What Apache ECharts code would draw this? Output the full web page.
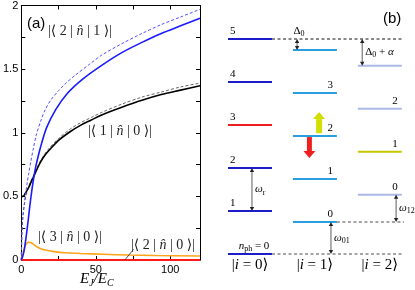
<!DOCTYPE html>
<html><head><meta charset="utf-8">
<script src="https://cdn.jsdelivr.net/npm/echarts@6/dist/echarts.min.js"></script>
<style>html,body{margin:0;padding:0;background:#fff;}#chart{width:415px;height:290px;}</style>
</head><body><div id="chart"></div>
<script>
// ---------- Panel (a): charge matrix elements vs EJ/EC ----------
const n21Exact = [[0,0],[1,0.03],[2,0.08],[3,0.16],[4,0.25],[5,0.35],[6,0.45],[7,0.54],[8,0.62],[9,0.69],[10,0.75],[13,0.89],[17,1.04],[23,1.18],[31,1.31],[41,1.42],[54,1.53],[67.5,1.63],[81,1.71],[94,1.78],[107,1.84],[120,1.9]];
const n21Asym = [[0,0],[0.5,0.22],[1,0.32],[2,0.44],[3,0.53],[4,0.61],[5,0.68],[6.5,0.78],[8,0.87],[10,0.98],[13,1.09],[16,1.18],[20,1.26],[25,1.33],[30,1.39],[36,1.45],[46,1.54],[54,1.61],[67.5,1.7],[81,1.78],[94,1.85],[107,1.91],[120,1.97]];
const n10Exact = [[0,0.5],[1,0.5],[2,0.51],[3.5,0.54],[5,0.57],[6.5,0.61],[8.5,0.66],[10,0.7],[12,0.75],[15,0.81],[18.5,0.86],[25,0.94],[33,1.01],[40,1.06],[47,1.1],[54,1.14],[67.5,1.2],[81,1.255],[94,1.3],[107,1.335],[120,1.37]];
const n10Asym = [[0,0],[0.4,0.22],[1,0.34],[2,0.43],[3,0.5],[4.5,0.56],[6,0.61],[8,0.66],[10,0.71],[12,0.76],[15,0.82],[18.5,0.875],[25,0.955],[33,1.03],[40,1.08],[47,1.12],[54,1.16],[67.5,1.225],[81,1.28],[94,1.32],[107,1.36],[120,1.39]];
const n30Exact = [[0,0],[1,0.05],[2,0.09],[3,0.12],[4,0.135],[5,0.14],[6,0.138],[7.5,0.13],[9,0.115],[11,0.1],[13.5,0.087],[17,0.076],[22,0.066],[30,0.057],[40,0.051],[55,0.045],[72,0.039],[90,0.035],[120,0.031]];
const n20Exact = [[0,0],[120,0]];
const n20Leader = [[69.5,0],[75.5,0.085]];
const xTickLabels = [0, 50, 100];
const yTickLabels = [0, 0.5, 1, 1.5, 2];

// ---------- Panel (b): level diagram ----------
const col0Levels = [0, 1, 2, 3, 4, 5];
const col1Levels = [0.744, 1.744, 2.744, 3.744, 4.744];
const col2Levels = [1.38, 2.38, 3.38, 4.38];
const col0Names = ['', '1', '2', '3', '4', '5'];
const col1Names = ['0', '1', '2', '3', ''];
const col2Names = ['0', '1', '2', ''];
const stateNames = ['0', '1', '2'];
const gapArrows = [[0, 1, 2], [1, 4.744, 5], [2, 4.38, 5], [1, 0, 0.744], [2, 0.744, 1.38]]; // [column, lower, upper]
const gapNames = ['{i|ω}{s|r}', '{t|Δ}{s|0}', '{t|Δ}{s|0}{t| + }{i|α}', '{i|ω}{s|01}', '{i|ω}{s|12}'];
const drives = [[1, 2.81, 3.30], [1, 2.72, 2.23]]; // [column, from, to]
const refLines = [[5, 0], [0.744, 1], [0, 0]]; // [energy, column it starts after]

// ---------- layout / style ----------
const COL_X = [0, 1.475, 2.95];
const LEVEL_W = 1;
const REF_END = 4.0;
const GAP_OFFSET = [0.545, 0.095, 0.1, 0.865, 0.87];
const GAP_LABEL = ['right', 'top', 'right', 'right', 'right'];
const DRIVE_OFFSET = [0.595, 0.375];
const DRIVE_COLOR = ['#d2de00', '#ee2020'];
const DRIVE_SHAFT = [6, 5];
const REF_COLOR = ['#111', '#888', '#888'];
const SERIF = '"Liberation Serif", "DejaVu Serif", serif';
const SANS = '"Liberation Sans", Arial, sans-serif';
const richSmall = {
  t: {fontSize: 11, fontFamily: SERIF, lineHeight: 14, fill: '#000'},
  i: {fontSize: 11, fontFamily: SERIF, fontStyle: 'italic', lineHeight: 14, fill: '#000'},
  s: {fontSize: 8, fontFamily: SERIF, verticalAlign: 'bottom', lineHeight: 6, fill: '#000'}
};
const richBig = {
  t: {fontSize: 15, fontFamily: SERIF, lineHeight: 18, fill: '#000'},
  i: {fontSize: 15, fontFamily: SERIF, fontStyle: 'italic', lineHeight: 18, fill: '#000'},
  s: {fontSize: 10, fontFamily: SERIF, fontStyle: 'italic', verticalAlign: 'bottom', lineHeight: 8, fill: '#000'}
};
const richLab = {
  t: {fontSize: 14, fontFamily: SERIF, fill: '#222'},
  i: {fontSize: 14, fontFamily: SERIF, fontStyle: 'italic', fill: '#222'}
};

function levelColor(c, k) {
  if (c === 0) return k === 3 ? '#ee1c1c' : '#1c1cc8';
  if (c === 1) return '#2a9fe0';
  return k === 1 ? '#c8c800' : '#aab9e6';
}
const levelNames = [col0Names, col1Names, col2Names];
const levelData = [];
[col0Levels, col1Levels, col2Levels].forEach((arr, c) => arr.forEach((e, k) => levelData.push([c, e, k])));

function renderLevel(params, api) {
  const c = api.value(0), e = api.value(1), k = api.value(2);
  const p1 = api.coord([COL_X[c], e]), p2 = api.coord([COL_X[c] + LEVEL_W, e]);
  const ch = [{type: 'line', shape: {x1: p1[0], y1: p1[1], x2: p2[0], y2: p2[1]}, style: {stroke: levelColor(c, k), lineWidth: 2}}];
  const lab = levelNames[c][k];
  if (lab) {
    ch.push({type: 'text', style: {text: lab, x: c === 0 ? p1[0] + 2 : p2[0] - 4, y: p1[1] - 8,
      font: '11px ' + SERIF, fill: '#000', align: c === 0 ? 'left' : 'right', verticalAlign: 'middle'}});
  }
  if (c === 0 && k === 0) {
    ch.push({type: 'text', style: {text: '{i|n}{s|ph}{t| = 0}', rich: richSmall, x: (p1[0] + p2[0]) / 2 + 4, y: p1[1] - 8,
      align: 'center', verticalAlign: 'middle'}});
  }
  return {type: 'group', children: ch};
}

function renderGap(params, api) {
  const i = params.dataIndex;
  const c = api.value(0), lo = api.value(1), hi = api.value(2);
  const xd = COL_X[c] + GAP_OFFSET[i];
  const a = api.coord([xd, hi]), b = api.coord([xd, lo]);
  const x = a[0], hl = 4, hw = 2.2;
  const ch = [
    {type: 'line', shape: {x1: x, y1: a[1] + 2, x2: x, y2: b[1] - 2}, style: {stroke: '#333', lineWidth: 0.8}},
    {type: 'polygon', shape: {points: [[x, a[1]], [x - hw, a[1] + hl], [x + hw, a[1] + hl]]}, style: {fill: '#222'}},
    {type: 'polygon', shape: {points: [[x, b[1]], [x - hw, b[1] - hl], [x + hw, b[1] - hl]]}, style: {fill: '#222'}}
  ];
  if (GAP_LABEL[i] === 'top') {
    ch.push({type: 'text', style: {text: gapNames[i], rich: richSmall, x: x + 2, y: a[1] - 8, align: 'center', verticalAlign: 'middle'}});
  } else {
    ch.push({type: 'text', style: {text: gapNames[i], rich: richSmall, x: x + 3, y: (a[1] + b[1]) / 2, align: 'left', verticalAlign: 'middle'}});
  }
  return {type: 'group', children: ch};
}

function renderDrive(params, api) {
  const i = params.dataIndex;
  const c = api.value(0), from = api.value(1), to = api.value(2);
  const xd = COL_X[c] + DRIVE_OFFSET[i];
  const a = api.coord([xd, from]), b = api.coord([xd, to]);
  const x = a[0], dir = b[1] < a[1] ? -1 : 1;
  const hl = 7, hw = 6, sw = DRIVE_SHAFT[i] / 2;
  const base = b[1] - dir * hl;
  return {type: 'group', children: [
    {type: 'polygon', shape: {points: [[x - sw, a[1]], [x + sw, a[1]], [x + sw, base], [x - sw, base]]}, style: {fill: DRIVE_COLOR[i]}},
    {type: 'polygon', shape: {points: [[x - hw, base], [x + hw, base], [x, b[1]]]}, style: {fill: DRIVE_COLOR[i]}}
  ]};
}

function renderRef(params, api) {
  const i = params.dataIndex;
  const e = api.value(0), c = api.value(1);
  const a = api.coord([COL_X[c] + LEVEL_W, e]), b = api.coord([REF_END, e]);
  return {type: 'line', shape: {x1: a[0], y1: a[1], x2: b[0], y2: b[1]},
    style: {stroke: REF_COLOR[i], lineWidth: i === 0 ? 1 : 1.3, lineDash: [3, 2.5]}};
}

function renderState(params, api) {
  const c = api.value(0);
  const p = api.coord([COL_X[c] + LEVEL_W / 2, 0]);
  return {type: 'text', style: {text: '{t||}{i|i}{t| = ' + stateNames[c] + '⟩}', rich: richBig, x: p[0], y: p[1] + 11,
    align: 'center', verticalAlign: 'middle'}};
}

const tickFmtX = v => xTickLabels.indexOf(v) >= 0 ? String(v) : '';
const tickFmtY = v => yTickLabels.some(t => Math.abs(t - v) < 1e-9) ? String(v) : '';
const axisCommon = {
  axisLine: {show: true, onZero: false, lineStyle: {color: '#000', width: 1}},
  axisTick: {show: true, inside: true, length: 4, lineStyle: {color: '#000', width: 1}},
  splitLine: {show: false}
};
const pB = {xAxisIndex: 2, yAxisIndex: 2};

const chart = echarts.init(document.getElementById('chart'), null, {renderer: 'canvas'});
chart.setOption({
  animation: false,
  backgroundColor: '#fff',
  grid: [
    {left: 17, top: 5, width: 183, height: 255},
    {left: 228, top: 39, width: 178, height: 215}
  ],
  xAxis: [
    Object.assign({gridIndex: 0, type: 'value', min: 0, max: 120, interval: 25, position: 'bottom',
      axisLabel: {formatter: tickFmtX, color: '#000', fontSize: 11, fontFamily: SANS, margin: 4}}, axisCommon),
    Object.assign({gridIndex: 0, type: 'value', min: 0, max: 120, interval: 25, position: 'top',
      axisLabel: {show: false}}, axisCommon),
    {gridIndex: 1, type: 'value', min: 0, max: 4.045, show: false}
  ],
  yAxis: [
    Object.assign({gridIndex: 0, type: 'value', min: 0, max: 2, interval: 0.25, position: 'left',
      axisLabel: {formatter: tickFmtY, color: '#000', fontSize: 11, fontFamily: SANS, margin: 3}}, axisCommon),
    Object.assign({gridIndex: 0, type: 'value', min: 0, max: 2, interval: 0.25, position: 'right',
      axisLabel: {show: false}}, axisCommon),
    {gridIndex: 1, type: 'value', min: 0, max: 5, show: false}
  ],
  series: [
    {type: 'line', data: n20Exact, xAxisIndex: 0, yAxisIndex: 0, showSymbol: false, clip: false,
      lineStyle: {color: '#ff1a1a', width: 2.2}, z: 3,
      markLine: {silent: true, symbol: 'none', label: {show: false}, lineStyle: {color: '#222', width: 0.8, type: 'solid'},
        data: [[{coord: n20Leader[0]}, {coord: n20Leader[1]}]]}},
    {type: 'line', data: n30Exact, xAxisIndex: 0, yAxisIndex: 0, showSymbol: false, smooth: 0.3,
      lineStyle: {color: '#ffa41a', width: 1.6}},
    {type: 'line', data: n10Asym, xAxisIndex: 0, yAxisIndex: 0, showSymbol: false, smooth: 0.3,
      lineStyle: {color: '#666', width: 1, type: [3, 2]}},
    {type: 'line', data: n10Exact, xAxisIndex: 0, yAxisIndex: 0, showSymbol: false, smooth: 0.3,
      lineStyle: {color: '#000', width: 1.6}},
    {type: 'line', data: n21Asym, xAxisIndex: 0, yAxisIndex: 0, showSymbol: false, smooth: 0.3,
      lineStyle: {color: '#5050ff', width: 1, type: [3, 2]}},
    {type: 'line', data: n21Exact, xAxisIndex: 0, yAxisIndex: 0, showSymbol: false, smooth: 0.3,
      lineStyle: {color: '#1a1aff', width: 1.6}},
    Object.assign({type: 'custom', data: refLines, renderItem: renderRef, z: 2}, pB),
    Object.assign({type: 'custom', data: levelData, renderItem: renderLevel, z: 3}, pB),
    Object.assign({type: 'custom', data: gapArrows, renderItem: renderGap, z: 4}, pB),
    Object.assign({type: 'custom', data: drives, renderItem: renderDrive, z: 4}, pB),
    Object.assign({type: 'custom', data: stateNames.map((s, c) => [c, 0]), renderItem: renderState, z: 4}, pB)
  ],
  graphic: [
    {type: 'text', left: 27, top: 16, style: {text: '(a)', font: '15px ' + SANS, fill: '#000'}},
    {type: 'text', left: 383, top: 11, style: {text: '(b)', font: '15px ' + SANS, fill: '#000'}},
    {type: 'text', left: 48, top: 24, style: {text: '|⟨ 2 | {i|n̂} | 1 ⟩|', rich: richLab, font: '14px ' + SERIF, fill: '#222'}},
    {type: 'text', left: 88, top: 124, style: {text: '|⟨ 1 | {i|n̂} | 0 ⟩|', rich: richLab, font: '14px ' + SERIF, fill: '#222'}},
    {type: 'text', left: 38, top: 230, style: {text: '|⟨ 3 | {i|n̂} | 0 ⟩|', rich: richLab, font: '14px ' + SERIF, fill: '#222'}},
    {type: 'text', left: 131, top: 238, style: {text: '|⟨ 2 | {i|n̂} | 0 ⟩|', rich: richLab, font: '14px ' + SERIF, fill: '#222'}},
    {type: 'text', left: 80, top: 272, style: {text: '{i|E}{s|J}{i|/E}{s|C}', rich: richBig}}
  ]
});
</script></body></html>
